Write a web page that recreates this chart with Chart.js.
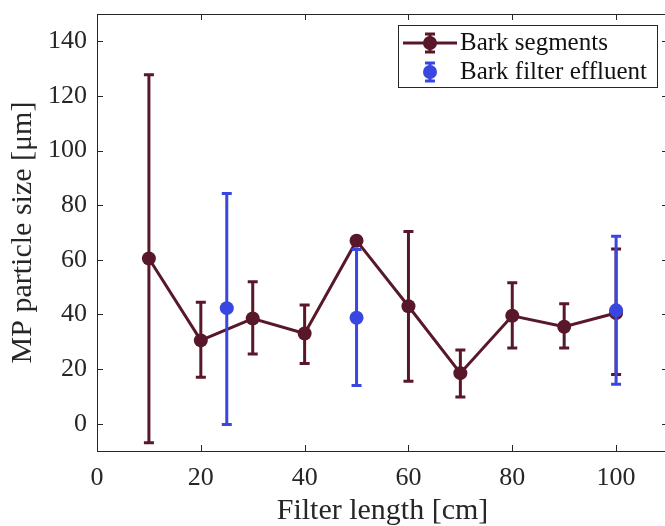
<!DOCTYPE html>
<html>
<head>
<meta charset="utf-8">
<script src="https://cdn.jsdelivr.net/npm/chart.js@4.4.0/dist/chart.umd.min.js"></script>
<style>
  html, body { margin: 0; padding: 0; overflow: hidden; background: #fff; width: 665px; height: 526px; }
  canvas { display: block; }
</style>
</head>
<body>
<canvas id="chart" width="680" height="526"></canvas>
<script>
// Bark segments (mean with min/max error bars)
const segX = [10, 20, 30, 40, 50, 60, 70, 80, 90, 100];
const segMean = [60.5, 30.5, 38.5, 33, 67, 43, 18.5, 39.5, 35.5, 40.5];
const segLow = [-7, 17, 25.5, 22, 67, 15.5, 9.8, 27.7, 27.7, 18];
const segHigh = [127.8, 44.5, 52, 43.5, 67, 70.4, 27, 51.6, 43.9, 64];

// Bark filter effluent
const effX = [25, 50, 100];
const effMean = [42.3, 38.8, 41.5];
const effLow = [-0.3, 14, 14.4];
const effHigh = [84.3, 63.8, 68.6];

const xTicks = [0, 20, 40, 60, 80, 100];
const yTicks = [0, 20, 40, 60, 80, 100, 120, 140];

const BROWN = '#58182a';
const BLUE = '#3a46e0';
const AXIS = '#262626';
const FONT = "'Liberation Serif', 'Times New Roman', serif";

// error bars drawn right after each dataset so the stacking matches
const errorBars = {
  id: 'errorBars',
  afterDatasetDraw(chart, args) {
    const ds = chart.data.datasets[args.index];
    if (!ds.errLow) return;
    const { ctx, scales: { x, y } } = chart;
    ctx.save();
    ctx.strokeStyle = ds.borderColor;
    ctx.lineWidth = 3;
    ds.data.forEach((p, i) => {
      const lo = ds.errLow[i], hi = ds.errHigh[i];
      if (hi - lo < 0.01) return;
      const px = x.getPixelForValue(p.x);
      const yLo = y.getPixelForValue(lo);
      const yHi = y.getPixelForValue(hi);
      ctx.beginPath();
      ctx.moveTo(px, yLo); ctx.lineTo(px, yHi);
      ctx.moveTo(px - 5, yLo); ctx.lineTo(px + 5, yLo);
      ctx.moveTo(px - 5, yHi); ctx.lineTo(px + 5, yHi);
      ctx.stroke();
    });
    ctx.restore();
  }
};

// box around the axes plus inward ticks on all sides
const axesBox = {
  id: 'axesBox',
  afterDraw(chart) {
    const { ctx, chartArea: a, scales: { x, y } } = chart;
    ctx.save();
    ctx.strokeStyle = AXIS;
    ctx.lineWidth = 1;
    ctx.strokeRect(Math.round(a.left) + 0.5, Math.round(a.top) + 0.5,
      Math.round(a.right - a.left), Math.round(a.bottom - a.top));
    ctx.beginPath();
    xTicks.forEach(v => {
      const px = Math.round(x.getPixelForValue(v)) + 0.5;
      ctx.moveTo(px, a.bottom); ctx.lineTo(px, a.bottom - 6);
      ctx.moveTo(px, a.top); ctx.lineTo(px, a.top + 6);
    });
    yTicks.forEach(v => {
      const py = Math.round(y.getPixelForValue(v)) + 0.5;
      ctx.moveTo(a.left, py); ctx.lineTo(a.left + 6, py);
      ctx.moveTo(a.right, py); ctx.lineTo(a.right - 6, py);
    });
    ctx.stroke();
    ctx.restore();
  }
};

// MATLAB style legend with error bar icons
const legendBox = {
  id: 'legendBox',
  afterDraw(chart) {
    const ctx = chart.ctx;
    const bx = 398, by = 25, bw = 259, bh = 62;
    ctx.save();
    ctx.fillStyle = '#fff';
    ctx.fillRect(bx, by, bw, bh);
    ctx.strokeStyle = AXIS;
    ctx.lineWidth = 1;
    ctx.strokeRect(bx + 0.5, by + 0.5, bw, bh);

    const rows = [
      { y: 43, color: BROWN, line: true, label: chart.data.datasets[0].label },
      { y: 72, color: BLUE, line: false, label: chart.data.datasets[1].label }
    ];
    const mx = 430;
    rows.forEach(r => {
      ctx.strokeStyle = r.color;
      ctx.lineWidth = 3;
      ctx.beginPath();
      if (r.line) { ctx.moveTo(403, r.y); ctx.lineTo(457, r.y); }
      ctx.moveTo(mx, r.y - 9); ctx.lineTo(mx, r.y + 9);
      ctx.moveTo(mx - 5, r.y - 9); ctx.lineTo(mx + 5, r.y - 9);
      ctx.moveTo(mx - 5, r.y + 9); ctx.lineTo(mx + 5, r.y + 9);
      ctx.stroke();
      ctx.fillStyle = r.color;
      ctx.beginPath();
      ctx.arc(mx, r.y, 7, 0, Math.PI * 2);
      ctx.fill();
      ctx.fillStyle = '#111';
      ctx.font = '25px ' + FONT;
      ctx.textBaseline = 'middle';
      ctx.textAlign = 'left';
      ctx.fillText(r.label, 460, r.y);
    });
    ctx.restore();
  }
};

const ctx = document.getElementById('chart').getContext('2d');
new Chart(ctx, {
  type: 'line',
  data: {
    datasets: [
      {
        label: 'Bark segments',
        data: segX.map((v, i) => ({ x: v, y: segMean[i] })),
        errLow: segLow,
        errHigh: segHigh,
        order: 1,
        borderColor: BROWN,
        backgroundColor: BROWN,
        borderWidth: 3,
        pointRadius: 7,
        pointBorderWidth: 0,
        pointBackgroundColor: BROWN,
        tension: 0
      },
      {
        label: 'Bark filter effluent',
        data: effX.map((v, i) => ({ x: v, y: effMean[i] })),
        errLow: effLow,
        errHigh: effHigh,
        order: 0, // drawn last, on top of the brown series
        borderColor: BLUE,
        backgroundColor: BLUE,
        showLine: false,
        pointRadius: 7,
        pointBorderWidth: 0,
        pointBackgroundColor: BLUE
      }
    ]
  },
  options: {
    responsive: false,
    animation: false,
    layout: { padding: { top: 14, right: 12, left: 0, bottom: 0 } },
    plugins: {
      legend: { display: false },
      tooltip: { enabled: false }
    },
    scales: {
      x: {
        type: 'linear',
        min: 0,
        max: 110,
        afterBuildTicks: s => { s.ticks = xTicks.map(v => ({ value: v })); },
        afterFit: s => { s.height = 75; s.paddingLeft = 0; s.paddingRight = 0; },
        grid: { display: false, drawTicks: false },
        border: { display: false },
        ticks: { color: AXIS, padding: 12, font: { family: FONT, size: 26 } },
        title: {
          display: true,
          text: 'Filter length [cm]',
          color: AXIS,
          padding: 0,
          font: { family: FONT, size: 30, lineHeight: 1 }
        }
      },
      y: {
        min: -10,
        max: 150,
        afterBuildTicks: s => { s.ticks = yTicks.map(v => ({ value: v })); },
        afterFit: s => { s.width = 97; s.paddingTop = 0; s.paddingBottom = 0; },
        grid: { display: false, drawTicks: false },
        border: { display: false },
        ticks: { color: AXIS, padding: 10, font: { family: FONT, size: 26 } },
        title: {
          display: true,
          text: 'MP particle size [μm]',
          color: AXIS,
          padding: { top: 5, bottom: 0 },
          font: { family: FONT, size: 30, lineHeight: 1.2 }
        }
      }
    }
  },
  plugins: [errorBars, axesBox, legendBox]
});
</script>
</body>
</html>
